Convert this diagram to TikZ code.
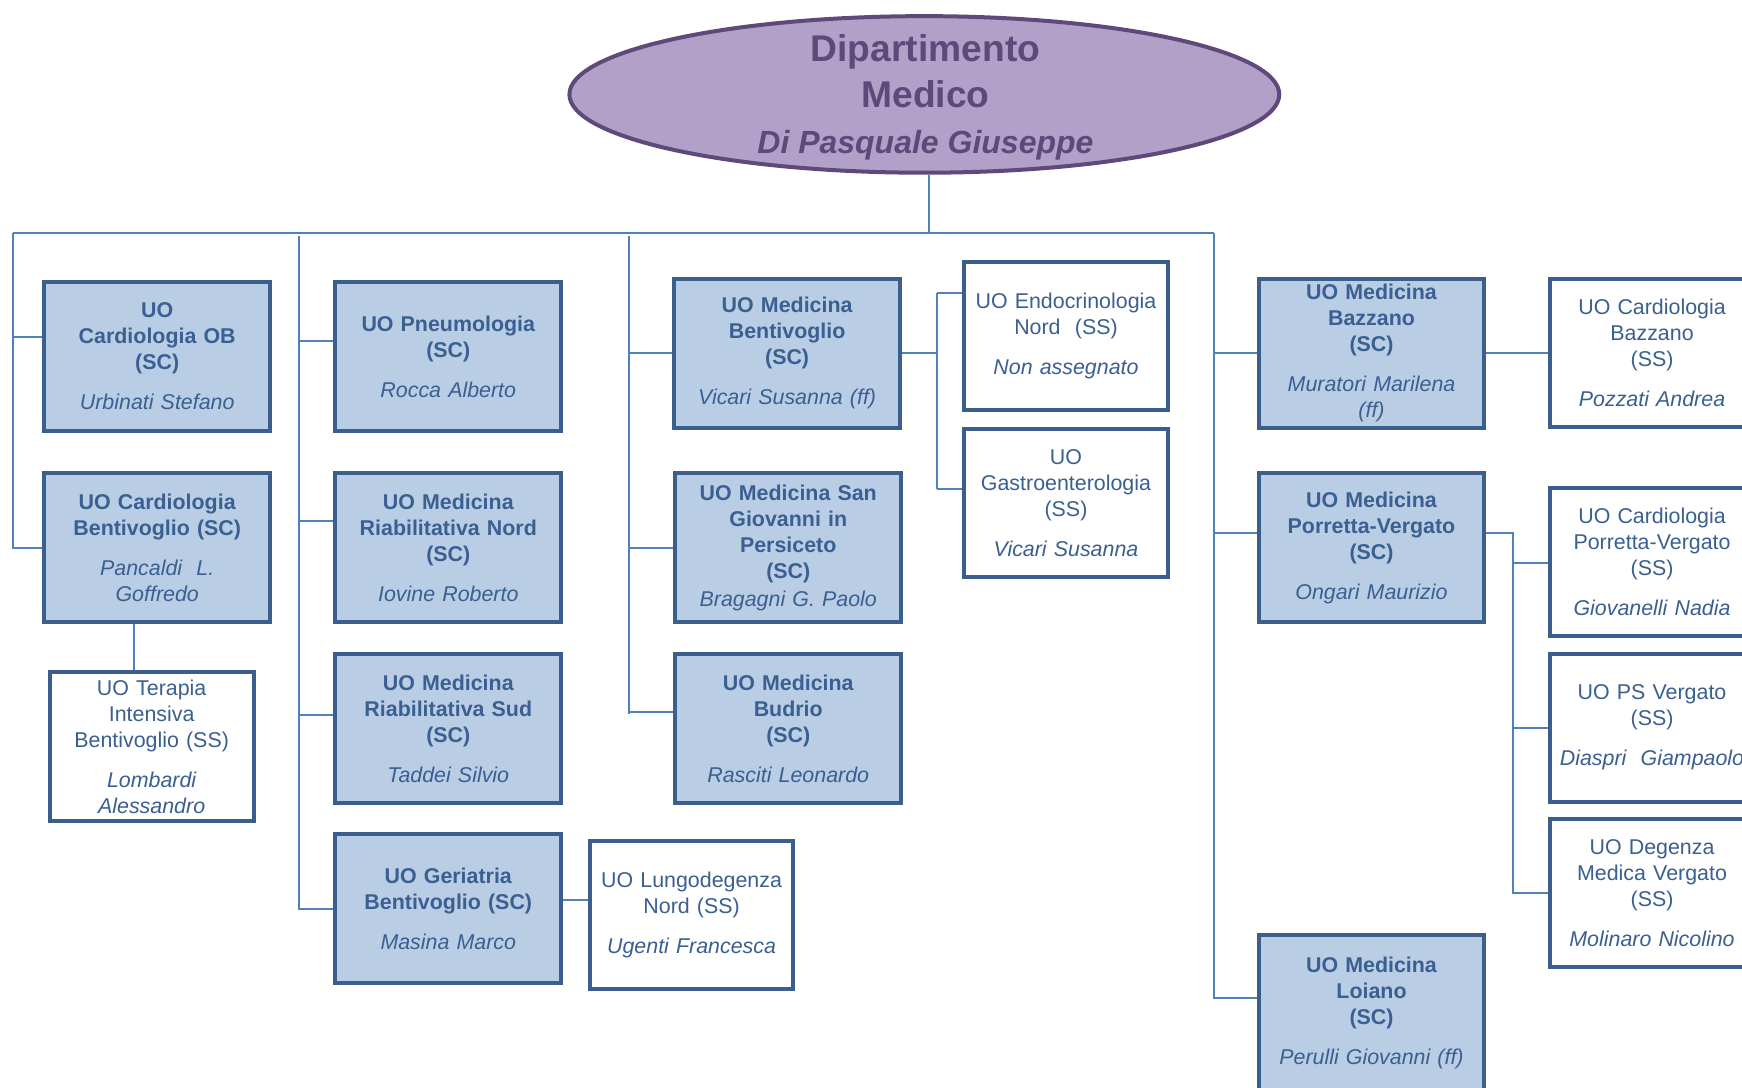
\documentclass[tikz,border=0pt]{standalone}
\usepackage{fontspec}
\setmainfont{Liberation Sans}
\usetikzlibrary{shapes.geometric}
\definecolor{scfill}{HTML}{B9CDE5}
\definecolor{bord}{HTML}{3B5E8C}
\definecolor{txt}{HTML}{3A5F91}
\definecolor{conn}{HTML}{4F81BD}
\definecolor{ellfill}{HTML}{B1A0C7}
\definecolor{elldraw}{HTML}{5F497A}
\begin{document}
\begin{tikzpicture}[x=0.5556pt,y=-0.5556pt,
 box/.style={draw=bord,line width=2pt,text=txt,align=center,inner sep=0pt,font=\fontsize{10.7}{13}\selectfont},
 scbox/.style={box,fill=scfill,minimum width=113pt,minimum height=74.7pt,text width=110pt},
 ssbox/.style={box,fill=white,minimum width=101.9pt,minimum height=74.1pt,text width=100pt},
 link/.style={draw=conn,line width=1pt}]
\useasboundingbox (0,0) rectangle (1568,979);
\clip (0,0) rectangle (1568,979);

% root
\node[ellipse,draw=elldraw,fill=ellfill,line width=2pt,minimum width=355pt,minimum height=78.3pt,inner sep=0pt] (root) at (832,85) {};
\node[text=elldraw,align=center,font=\fontsize{18.6}{23}\selectfont\bfseries] (rootlabel) at (833,88) {Dipartimento\\Medico\\{\fontsize{16}{23}\selectfont\itshape Di Pasquale Giuseppe}};

% column 1
\node[scbox] (ob) at (141.5,321) {\bfseries UO\\Cardiologia OB\\(SC)\\[7pt]\mdseries\itshape Urbinati Stefano};
\node[scbox] (cardbent) at (141.5,493) {\bfseries UO Cardiologia\\Bentivoglio (SC)\\[7pt]\mdseries\itshape Pancaldi\ \ L.\\Goffredo};
\node[ssbox] (terapia) at (136.5,672) {UO Terapia\\Intensiva\\Bentivoglio (SS)\\[7pt]\itshape Lombardi\\Alessandro};

% column 2
\node[scbox] (pneu) at (403.5,321) {\bfseries UO Pneumologia\\(SC)\\[7pt]\mdseries\itshape Rocca Alberto};
\node[scbox] (riabnord) at (403.5,493) {\bfseries UO Medicina\\Riabilitativa Nord\\(SC)\\[7pt]\mdseries\itshape Iovine Roberto};
\node[scbox] (riabsud) at (403.5,656) {\bfseries UO Medicina\\Riabilitativa Sud\\(SC)\\[7pt]\mdseries\itshape Taddei Silvio};
\node[scbox] (geri) at (403.5,818) {\bfseries UO Geriatria\\Bentivoglio (SC)\\[7pt]\mdseries\itshape Masina Marco};
\node[ssbox] (lungo) at (622.5,823.5) {UO Lungodegenza\\Nord (SS)\\[7pt]\itshape Ugenti Francesca};

% column 3
\node[scbox] (medbent) at (708.5,318) {\bfseries UO Medicina\\Bentivoglio\\(SC)\\[7pt]\mdseries\itshape Vicari Susanna (ff)};
\node[scbox] (sangio) at (709.5,493) {\bfseries UO Medicina San\\Giovanni in\\Persiceto\\(SC)\\[1pt]\mdseries\itshape Bragagni G. Paolo};
\node[scbox] (budrio) at (709.5,656) {\bfseries UO Medicina\\Budrio\\(SC)\\[7pt]\mdseries\itshape Rasciti Leonardo};
\node[ssbox] (endo) at (959.5,302.5) {UO Endocrinologia\\Nord\ \ (SS)\\[7pt]\itshape Non assegnato};
\node[ssbox] (gastro) at (959.5,452.5) {UO\\Gastroenterologia\\(SS)\\[7pt]\itshape Vicari Susanna};

% column 4
\node[scbox] (bazzano) at (1234.5,318) {\bfseries UO Medicina\\Bazzano\\(SC)\\[7pt]\mdseries\itshape Muratori Marilena\\(ff)};
\node[scbox] (porretta) at (1234.5,493) {\bfseries UO Medicina\\Porretta-Vergato\\(SC)\\[7pt]\mdseries\itshape Ongari Maurizio};
\node[scbox,minimum height=78pt] (loiano) at (1234.5,912) {\bfseries UO Medicina\\Loiano\\(SC)\\[7pt]\mdseries\itshape Perulli Giovanni (ff)};
\node[ssbox] (cbazz) at (1487,318) {UO Cardiologia\\Bazzano\\(SS)\\[7pt]\itshape Pozzati Andrea};
\node[ssbox] (cporr) at (1487,506) {UO Cardiologia\\Porretta-Vergato\\(SS)\\[7pt]\itshape Giovanelli Nadia};
\node[ssbox] (ps) at (1487,655) {UO PS Vergato\\(SS)\\[7pt]\itshape Diaspri\ \ Giampaolo};
\node[ssbox] (degenza) at (1487,803.5) {UO Degenza\\Medica Vergato\\(SS)\\[7pt]\itshape Molinaro Nicolino};

% connectors
\coordinate (hl) at (12,210);
\coordinate (hr) at (1093,210);
\coordinate (b2) at (269,212);
\coordinate (b3) at (566,212);
\coordinate (pv) at (1362,480);
\coordinate (mv) at (843,318);
\draw[link] (root.south -| 836,0) -- (hl -| 836,0);
\draw[link] (hl) -- (hr);
% bus 1
\draw[link] (hl) |- (cardbent.west);
\draw[link] (hl |- 0,303) -- (ob.west |- 0,303);
\draw[link] (cardbent.south -| 121,0) -- (terapia.north -| 121,0);
% bus 2
\draw[link] (b2) |- (geri.west);
\draw[link] (b2 |- 0,307) -- (pneu.west |- 0,307);
\draw[link] (b2 |- 0,469) -- (riabnord.west |- 0,469);
\draw[link] (b2 |- 0,644) -- (riabsud.west |- 0,644);
\draw[link] (geri.east |- 0,810) -- (lungo.west |- 0,810);
% bus 3
\draw[link] (b3) -- (b3 |- 0,643);
\draw[link] (b3 |- medbent.west) -- (medbent.west);
\draw[link] (b3 |- sangio.west) -- (sangio.west);
\draw[link] (b3 |- 0,641) -- (budrio.west |- 0,641);
\draw[link] (medbent.east) -- (mv);
\draw[link] (mv |- 0,264) -- (mv |- 0,440);
\draw[link] (mv |- 0,264) -- (endo.west |- 0,264);
\draw[link] (mv |- 0,440) -- (gastro.west |- 0,440);
% bus 4
\draw[link] (hr) |- (loiano.west |- 0,898);
\draw[link] (hr |- bazzano.west) -- (bazzano.west);
\draw[link] (hr |- 0,480) -- (porretta.west |- 0,480);
\draw[link] (bazzano.east) -- (cbazz.west);
\draw[link] (porretta.east |- pv) -- (pv) -- (pv |- 0,805);
\draw[link] (pv |- 0,507) -- (cporr.west |- 0,507);
\draw[link] (pv |- ps.west) -- (ps.west);
\draw[link] (pv |- degenza.west) -- (degenza.west);
\end{tikzpicture}
\end{document}
